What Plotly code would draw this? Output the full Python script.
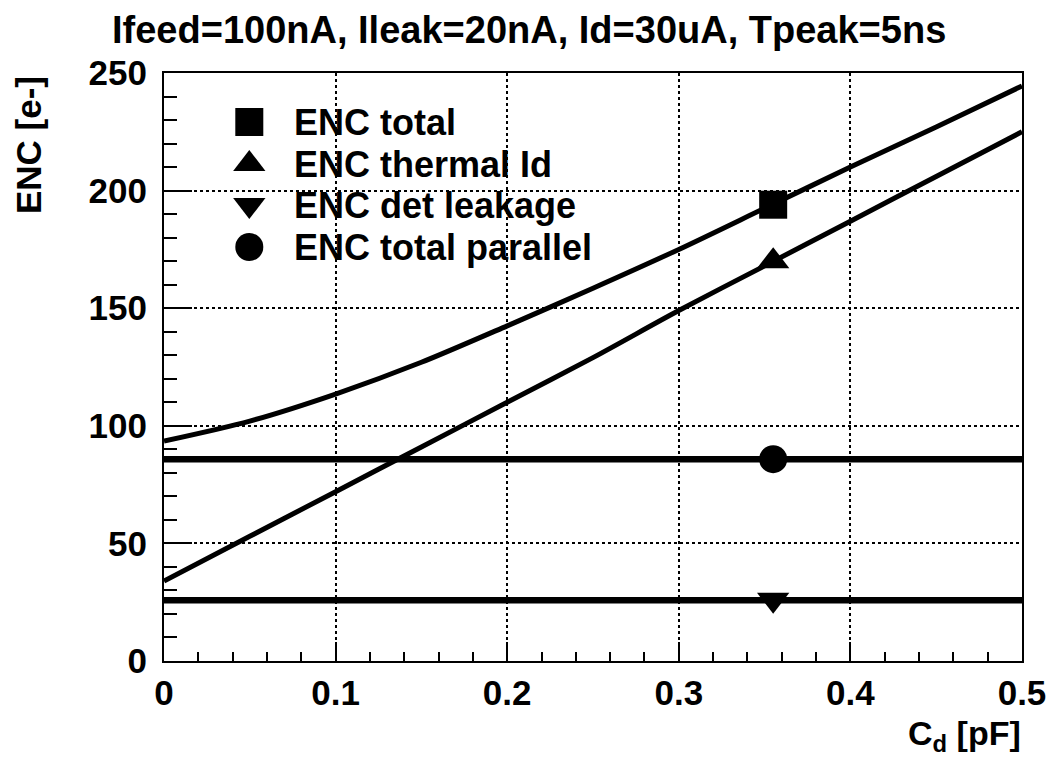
import plotly.graph_objects as go

# Detector capacitance grid [pF]
cd = [0.0, 0.05, 0.10, 0.15, 0.20, 0.25, 0.30, 0.35, 0.40, 0.45, 0.50]

# ENC contributions [e-]
enc_total = [93.5, 102, 113.5, 127, 142.5, 158.5, 175, 192.5, 210, 227, 244.5]
enc_thermal_id = [34, 53, 72, 91, 110, 129, 149, 168, 187, 206, 225]
enc_total_parallel = [85.8] * len(cd)
enc_det_leakage = [25.8] * len(cd)

# Working point marked on every curve
cd_marker = 0.355
marker_values = [194, 170, 26, 85.8]

legend_labels = ["ENC total", "ENC thermal Id", "ENC det leakage", "ENC total parallel"]
legend_symbols = ["square", "triangle-up", "triangle-down", "circle"]

title_text = "Ifeed=100nA, Ileak=20nA, Id=30uA, Tpeak=5ns"
x_ticks = [0, 0.1, 0.2, 0.3, 0.4, 0.5]
x_ticklabels = ["0", "0.1", "0.2", "0.3", "0.4", "0.5"]
y_ticks = [0, 50, 100, 150, 200, 250]

FONT = "Liberation Sans, Arial, Helvetica, sans-serif"

W, H = 1058, 760
L, R, T, B = 164, 29, 73, 99
PW, PH = W - L - R, H - T - B


def px_x(p):
    return (p - L) / PW


def px_y(p):
    return (H - B - p) / PH


fig = go.Figure()

curve_series = [enc_total, enc_thermal_id, enc_det_leakage, enc_total_parallel]
curve_widths = [5, 5, 6.5, 6.5]
for vals, w in zip(curve_series, curve_widths):
    fig.add_trace(go.Scatter(x=cd, y=vals, mode="lines",
                             line=dict(color="black", width=w, shape="spline",
                                       smoothing=0.8),
                             showlegend=False, hoverinfo="skip"))

for sym, v in zip(legend_symbols, marker_values):
    fig.add_trace(go.Scatter(x=[cd_marker], y=[v], mode="markers",
                             marker=dict(symbol=sym, size=28, color="black"),
                             showlegend=False))

# Legend keys drawn on an overlay axis spanning the plot area
row_px = [122, 164, 205, 247]
key_x = px_x(250)
text_x = px_x(293)
for sym, r in zip(legend_symbols, row_px):
    fig.add_trace(go.Scatter(x=[key_x], y=[px_y(r)], mode="markers",
                             marker=dict(symbol=sym, size=28, color="black"),
                             xaxis="x2", yaxis="y2", showlegend=False,
                             hoverinfo="skip"))
for lab, r in zip(legend_labels, row_px):
    fig.add_annotation(x=text_x, y=px_y(r), xref="x2", yref="y2",
                       text="<b>%s</b>" % lab, showarrow=False,
                       xanchor="left", yanchor="middle",
                       font=dict(family=FONT, size=36, color="black"))

# White box behind the legend hides the grid
fig.add_shape(type="rect", xref="paper", yref="paper",
              x0=px_x(205), x1=px_x(558), y0=px_y(272), y1=px_y(98),
              fillcolor="white", line=dict(width=0), layer="between")

axis_common = dict(showline=True, linecolor="black", linewidth=2, mirror=True,
                   ticks="inside", tickcolor="black", tickwidth=2,
                   showgrid=True, gridcolor="black", gridwidth=1.5, griddash="dot",
                   zeroline=False,
                   tickfont=dict(family=FONT, size=35, color="black", weight="bold"))

fig.update_layout(
    width=W, height=H,
    margin=dict(l=L, r=R, t=T, b=B),
    plot_bgcolor="white", paper_bgcolor="white",
    showlegend=False,
    xaxis=dict(range=[0, 0.5], tickvals=x_ticks, ticktext=x_ticklabels,
               ticklen=19, ticklabelstandoff=0,
               minor=dict(dtick=0.02, ticklen=9, tickwidth=2, tickcolor="black",
                          ticks="inside", showgrid=False),
               **axis_common),
    yaxis=dict(range=[0, 250], tickvals=y_ticks,
               ticklen=28, ticklabelstandoff=8,
               minor=dict(dtick=10, ticklen=13, tickwidth=2, tickcolor="black",
                          ticks="inside", showgrid=False),
               **axis_common),
    xaxis2=dict(range=[0, 1], overlaying="x", visible=False, fixedrange=True),
    yaxis2=dict(range=[0, 1], overlaying="y", visible=False, fixedrange=True),
)

fig.add_annotation(x=px_x(532), y=px_y(30), xref="paper", yref="paper",
                   text="<b>%s</b>" % title_text, showarrow=False,
                   xanchor="center", yanchor="middle",
                   font=dict(family=FONT, size=38, color="black"))
fig.add_annotation(x=px_x(28), y=px_y(74), xref="paper", yref="paper",
                   text="<b>ENC [e-]</b>", textangle=-90, showarrow=False,
                   xanchor="center", yanchor="top",
                   font=dict(family=FONT, size=35, color="black"))
fig.add_annotation(x=px_x(1030), y=px_y(735), xref="paper", yref="paper",
                   text="<b>C<sub>d</sub> [pF]</b>", showarrow=False,
                   xanchor="right", yanchor="middle",
                   font=dict(family=FONT, size=34, color="black"))

fig.write_html("out.html")
